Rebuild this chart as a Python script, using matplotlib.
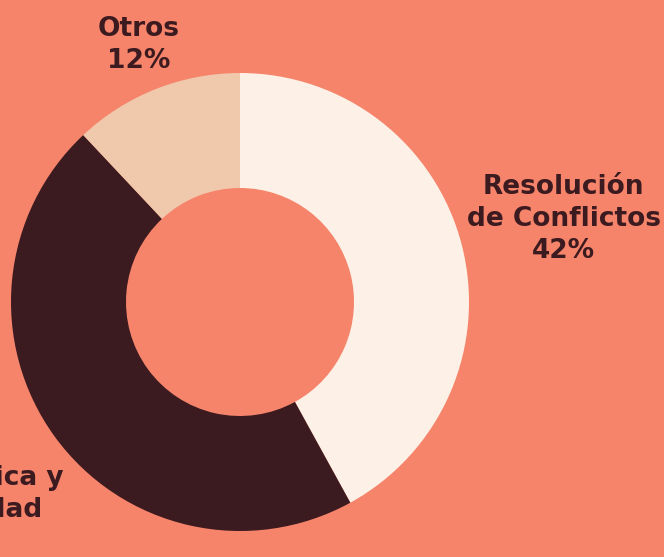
import numpy as np
import matplotlib.pyplot as plt

labels = ["Resolución\nde Conflictos", "Geopolítica y\nSeguridad", "Otros"]
shares = [42, 46, 12]

bg = "#f5846a"
colors = ["#fdf0e6", "#3b1a20", "#f0c8ac"]
ink = "#3b1a20"

W, H = 664, 557
fig = plt.figure(figsize=(W / 100, H / 100), dpi=100, facecolor=bg)
ax = fig.add_axes([0, 0, 1, 1])
ax.set_facecolor(bg)

cx, cy = 240, H - 302
r_out, r_in = 229, 114

wedges, _ = ax.pie(
    shares,
    colors=colors,
    startangle=90,
    counterclock=False,
    radius=r_out,
    center=(cx, cy),
    wedgeprops=dict(width=r_out - r_in, linewidth=0),
)

# label distance from centre and angle nudge, per slice
# (the middle one runs off the left edge, as in the original)
label_r = [334, 343, 276]
nudge = [0, 1.1, 0]
for w, lab, val, d, dn in zip(wedges, labels, shares, label_r, nudge):
    mid = np.deg2rad((w.theta1 + w.theta2) / 2 + dn)
    x = cx + d * np.cos(mid)
    y = cy + d * np.sin(mid)
    ax.text(x, y, f"{lab}\n{val}%", ha="center", va="center",
            fontsize=19, fontweight="bold", color=ink,
            family="DejaVu Sans", linespacing=1.3)

ax.set_xlim(0, W)
ax.set_ylim(0, H)
ax.set_aspect("equal")
ax.axis("off")

fig.savefig("out.png", dpi=100, facecolor=bg)
